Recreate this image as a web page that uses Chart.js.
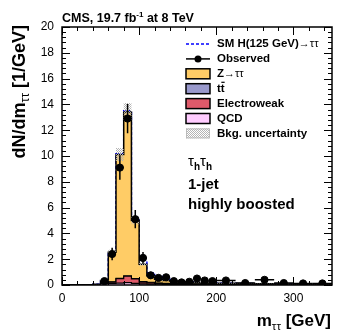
<!DOCTYPE html>
<html>
<head>
<meta charset="utf-8">
<script src="https://cdn.jsdelivr.net/npm/chart.js@4"></script>
<style>
  body { margin: 0; background: #fff; }
  #wrap { width: 349px; height: 335px; }
</style>
</head>
<body>
<div id="wrap"><canvas id="myChart" width="349" height="335"></canvas></div>
<script>
// bin edges in GeV (10 GeV up to 200, then 25 GeV)
const edges = [0,10,20,30,40,50,60,70,80,90,100,110,120,130,140,150,160,170,180,190,200,225,250,275,300,325,350];

// backgrounds, dN/dm per bin
const zTT    = [0,0,0,0,0.02,0.2,2.3,9.6,12.7,4.5,1.35,0.5,0.3,0.22,0.18,0.15,0.14,0.11,0.1,0.08,0.07,0.05,0.04,0.03,0.02,0.02];
const ttbar  = [0,0,0,0,0,0.01,0.02,0.02,0.03,0.03,0.03,0.03,0.03,0.03,0.03,0.02,0.02,0.02,0.02,0.02,0.02,0.02,0.01,0.01,0.01,0.01];
const ewk    = [0,0,0,0,0.01,0.04,0.1,0.35,0.5,0.35,0.15,0.1,0.06,0.05,0.04,0.04,0.03,0.03,0.03,0.02,0.02,0.02,0.02,0.01,0.01,0.01];
const qcd    = [0,0,0,0,0.02,0.1,0.12,0.15,0.18,0.12,0.08,0.07,0.06,0.05,0.05,0.04,0.04,0.04,0.03,0.03,0.03,0.02,0.02,0.02,0.01,0.01];
const signal = [0,0,0,0,0,0,0.02,0.05,0.1,0.15,0.3,0.25,0.2,0.1,0.05,0.03,0.02,0.01,0.01,0,0,0,0,0,0,0];
const bkgUnc = [0,0,0,0,0.01,0.05,0.2,0.5,0.7,0.3,0.12,0.06,0.05,0.04,0.03,0.03,0.03,0.02,0.02,0.02,0.02,0.02,0.01,0.01,0.01,0.01];

// observed data and its error
const observed = [null,null,null,null,null,0.3,2.4,9.1,12.9,5.1,2.1,0.75,0.55,0.6,0.3,0.2,0.25,0.5,0.35,0.3,0.35,0.15,0.4,0.15,0.12,0.12];
const obsErr   = [0,0,0,0,0,0.17,0.49,0.95,1.14,0.71,0.46,0.27,0.23,0.24,0.17,0.14,0.16,0.22,0.19,0.17,0.12,0.08,0.13,0.08,0.07,0.07];

// tick labels
const xTicks = [0,100,200,300];

const FONT = "'Liberation Sans', Arial, Helvetica, sans-serif";
const cZ = '#ffcc66', cTT = '#9999cc', cEW = '#de5a6a', cQCD = '#ffccff';

// stacking
const sQCD = qcd.map(v => v);
const sEW  = sQCD.map((v, i) => v + ewk[i]);
const sTT  = sEW.map((v, i) => v + ttbar[i]);
const sTot = sTT.map((v, i) => v + zTT[i]);
const sSig = sTot.map((v, i) => v + signal[i]);
const bandLo = sTot.map((v, i) => Math.max(0, v - bkgUnc[i]));
const bandHi = sTot.map((v, i) => v + bkgUnc[i]);

function steps(vals) {
  return edges.map((e, i) => ({ x: e, y: vals[Math.min(i, vals.length - 1)] }));
}

// checker pattern for uncertainty
function makePattern() {
  const c = document.createElement('canvas');
  c.width = 2; c.height = 2;
  const g = c.getContext('2d');
  g.fillStyle = '#b4b4b4';
  g.fillRect(0, 0, 1, 1);
  g.fillRect(1, 1, 1, 1);
  return document.getElementById('myChart').getContext('2d').createPattern(c, 'repeat');
}
const hatch = makePattern();

const obsPts = [];
observed.forEach((v, i) => {
  if (v !== null) obsPts.push({ x: (edges[i] + edges[i + 1]) / 2, y: v, e: obsErr[i], lo: edges[i], hi: edges[i + 1] });
});

function stepLine(vals, color, order, extra) {
  return Object.assign({
    type: 'line', data: steps(vals), stepped: 'before',
    borderColor: '#000', borderWidth: 1.2, backgroundColor: color,
    fill: 'origin', pointRadius: 0, order: order
  }, extra || {});
}

// error bars on data
const errorBars = {
  id: 'errorBars',
  afterDatasetsDraw(chart) {
    const ctx = chart.ctx, xs = chart.scales.x, ys = chart.scales.y;
    ctx.save();
    ctx.strokeStyle = '#000';
    ctx.lineWidth = 1.5;
    obsPts.forEach(p => {
      const px = xs.getPixelForValue(p.x), py = ys.getPixelForValue(p.y);
      ctx.beginPath();
      ctx.moveTo(px, ys.getPixelForValue(p.y - p.e));
      ctx.lineTo(px, ys.getPixelForValue(p.y + p.e));
      ctx.moveTo(xs.getPixelForValue(p.lo), py);
      ctx.lineTo(xs.getPixelForValue(p.hi), py);
      ctx.stroke();
    });
    ctx.restore();
  }
};

// frame with inward ticks
const frame = {
  id: 'frame',
  afterDatasetsDraw(chart) {
    const ctx = chart.ctx, a = chart.chartArea, xs = chart.scales.x, ys = chart.scales.y;
    ctx.save();
    ctx.strokeStyle = '#000';
    ctx.lineWidth = 1;
    ctx.beginPath();
    for (let v = 0; v <= 350; v += 20) {
      const px = Math.round(xs.getPixelForValue(v)) + 0.5;
      const len = v % 100 === 0 ? 8 : 4;
      ctx.moveTo(px, a.bottom); ctx.lineTo(px, a.bottom - len);
      ctx.moveTo(px, a.top); ctx.lineTo(px, a.top + len);
    }
    for (let k = 0; k <= 50; k++) {
      const v = k * 0.4;
      const py = Math.round(ys.getPixelForValue(v)) + 0.5;
      const len = k % 5 === 0 ? 8 : 4;
      ctx.moveTo(a.left, py); ctx.lineTo(a.left + len, py);
      ctx.moveTo(a.right, py); ctx.lineTo(a.right - len, py);
    }
    ctx.stroke();
    ctx.lineWidth = 1.5;
    ctx.strokeRect(a.left, a.top, a.right - a.left, a.bottom - a.top);
    ctx.restore();
  }
};

// texts and legend
function runs(ctx, x, y, parts) {
  parts.forEach(p => {
    ctx.font = p.f;
    ctx.fillText(p.t, x, y + (p.dy || 0));
    x += ctx.measureText(p.t).width;
  });
  return x;
}
function runsWidth(ctx, parts) {
  let w = 0;
  parts.forEach(p => { ctx.font = p.f; w += ctx.measureText(p.t).width; });
  return w;
}

const labels = {
  id: 'labels',
  afterDraw(chart) {
    const ctx = chart.ctx;
    ctx.save();
    ctx.fillStyle = '#000';
    ctx.textBaseline = 'alphabetic';
    ctx.textAlign = 'left';

    // header
    runs(ctx, 62, 22, [
      { t: 'CMS, 19.7 fb', f: 'bold 12.5px ' + FONT },
      { t: '-1', f: 'bold 8px ' + FONT, dy: -5 },
      { t: ' at 8 TeV', f: 'bold 12.5px ' + FONT }
    ]);

    // y title
    const yParts = [
      { t: 'dN/dm', f: 'bold 18px ' + FONT },
      { t: 'ττ', f: '12px ' + FONT, dy: 4 },
      { t: ' [1/GeV]', f: 'bold 18px ' + FONT }
    ];
    ctx.save();
    ctx.translate(25, 25);
    ctx.rotate(-Math.PI / 2);
    runs(ctx, -runsWidth(ctx, yParts), 0, yParts);
    ctx.restore();

    // x title
    const xParts = [
      { t: 'm', f: 'bold 17px ' + FONT },
      { t: 'ττ', f: '11.5px ' + FONT, dy: 4 },
      { t: ' [GeV]', f: 'bold 17px ' + FONT }
    ];
    runs(ctx, 331 - runsWidth(ctx, xParts), 326, xParts);

    // category text
    runs(ctx, 188, 166, [
      { t: 'τ', f: '15px ' + FONT },
      { t: 'h', f: 'bold 10px ' + FONT, dy: 4 },
      { t: 'τ', f: '15px ' + FONT },
      { t: 'h', f: 'bold 10px ' + FONT, dy: 4 }
    ]);
    ctx.font = 'bold 15px ' + FONT;
    ctx.fillText('1-jet', 188, 189);
    ctx.fillText('highly boosted', 188, 209);

    // legend
    const lx = 186, lw = 24, tx = 217, y0 = 44, dy = 14.9;
    const lf = 'bold 11.5px ' + FONT, rf = '11px ' + FONT;
    ctx.textBaseline = 'middle';
    let y = y0;
    ctx.strokeStyle = '#0000ff'; ctx.lineWidth = 1.5; ctx.setLineDash([3, 2]);
    ctx.beginPath(); ctx.moveTo(lx, y); ctx.lineTo(lx + lw, y); ctx.stroke();
    ctx.setLineDash([]);
    runs(ctx, tx, y, [{ t: 'SM H(125 GeV)', f: lf }, { t: '→ττ', f: rf }]);

    y += dy;
    ctx.strokeStyle = '#000';
    ctx.beginPath(); ctx.moveTo(lx, y); ctx.lineTo(lx + lw, y); ctx.stroke();
    ctx.beginPath(); ctx.arc(lx + lw / 2, y, 3.5, 0, Math.PI * 2); ctx.fill();
    runs(ctx, tx, y, [{ t: 'Observed', f: lf }]);

    const boxes = [
      { c: cZ, p: [{ t: 'Z', f: lf }, { t: '→ττ', f: rf }] },
      { c: cTT, p: [{ t: 'tt', f: lf }], bar: true },
      { c: cEW, p: [{ t: 'Electroweak', f: lf }] },
      { c: cQCD, p: [{ t: 'QCD', f: lf }] },
      { c: hatch, p: [{ t: 'Bkg. uncertainty', f: lf }], noEdge: true }
    ];
    boxes.forEach(b => {
      y += dy;
      ctx.fillStyle = b.c;
      ctx.fillRect(lx, y - 5, lw, 10);
      if (!b.noEdge) {
        ctx.strokeStyle = '#000'; ctx.lineWidth = 1.5;
        ctx.strokeRect(lx, y - 5, lw, 10);
      } else {
        ctx.strokeStyle = '#bbb'; ctx.lineWidth = 1;
        ctx.strokeRect(lx + 0.5, y - 4.5, lw - 1, 9);
      }
      ctx.fillStyle = '#000';
      runs(ctx, tx, y, b.p);
      if (b.bar) {
        ctx.font = lf;
        const w1 = ctx.measureText('t').width;
        ctx.fillRect(tx + w1 + 0.5, y - 7, w1 - 0.5, 1.2);
      }
    });
    ctx.restore();
  }
};

const ctx = document.getElementById('myChart').getContext('2d');
new Chart(ctx, {
  type: 'scatter',
  data: {
    datasets: [
      { type: 'scatter', data: obsPts, pointRadius: 3.6, pointBackgroundColor: '#000', pointBorderColor: '#000', order: 0 },
      { type: 'line', data: steps(bandLo), stepped: 'before', borderWidth: 0, pointRadius: 0, fill: false, order: 2 },
      { type: 'line', data: steps(bandHi), stepped: 'before', borderWidth: 0, pointRadius: 0, backgroundColor: hatch, fill: { target: 1 }, order: 1 },
      stepLine(sQCD, cQCD, 4),
      stepLine(sEW, cEW, 5),
      stepLine(sTT, cTT, 6),
      stepLine(sTot, cZ, 7, { borderWidth: 1.5 }),
      stepLine(sSig, 'rgba(0,0,0,0)', 8, { borderColor: '#0000ff', borderDash: [3, 2], fill: false, borderWidth: 1.5 })
    ]
  },
  options: {
    responsive: false,
    animation: false,
    layout: { padding: { top: 27, right: 17, left: 0, bottom: 0 } },
    plugins: { legend: { display: false }, tooltip: { enabled: false } },
    scales: {
      x: {
        type: 'linear', min: 0, max: 350,
        grid: { display: false, drawTicks: false },
        border: { display: false },
        afterBuildTicks: s => { s.ticks = xTicks.map(v => ({ value: v })); },
        afterFit: s => { s.height = 50; },
        ticks: { color: '#000', padding: 6, font: { family: FONT, size: 12 } }
      },
      y: {
        min: 0, max: 20,
        grid: { display: false, drawTicks: false },
        border: { display: false },
        afterFit: s => { s.width = 62; },
        ticks: { stepSize: 2, color: '#000', padding: 8, font: { family: FONT, size: 12 } }
      }
    }
  },
  plugins: [errorBars, frame, labels]
});
</script>
</body>
</html>
